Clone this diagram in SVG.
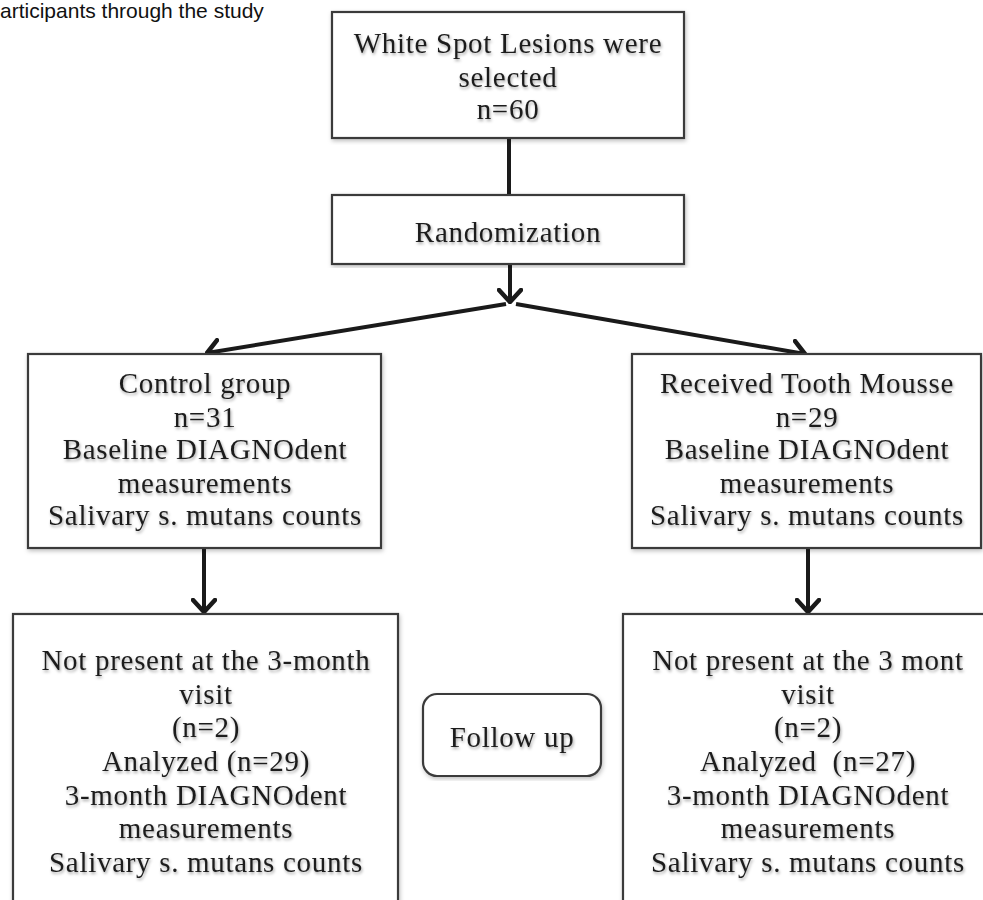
<svg xmlns="http://www.w3.org/2000/svg" width="983" height="900" viewBox="0 0 983 900">
  <defs>
    <filter id="tsh" x="-10%" y="-30%" width="120%" height="180%">
      <feDropShadow dx="1" dy="2" stdDeviation="1.5" flood-color="#000" flood-opacity="0.35"/>
    </filter>
    <filter id="bsh" x="-5%" y="-5%" width="110%" height="110%">
      <feDropShadow dx="1" dy="2" stdDeviation="2" flood-color="#000" flood-opacity="0.25"/>
    </filter>
    <marker id="arr" viewBox="0 0 16 26" refX="14" refY="13" markerWidth="16" markerHeight="26" markerUnits="userSpaceOnUse" orient="auto">
      <path d="M2,2 L14,13 L2,24" fill="none" stroke="#1a1a1a" stroke-width="4.5" stroke-linecap="round" stroke-linejoin="round"/>
    </marker>
  </defs>
  <style>
    .box { fill: #fff; stroke: #3a3a3a; stroke-width: 2.2; filter: url(#bsh); }
    .t { font-family: "Liberation Serif", "DejaVu Serif", serif; font-size: 29px; letter-spacing: 0.7px; fill: #1e1e1e; text-anchor: middle; filter: url(#tsh); }
    .line { stroke: #1a1a1a; stroke-width: 4; fill: none; }
    .cap { font-family: "Liberation Sans", Arial, sans-serif; font-size: 21px; fill: #111; }
  </style>

  <text class="cap" x="0" y="18">articipants through the study</text>

  <g id="connectors">
    <line class="line" x1="509" y1="138" x2="509" y2="195"/>
    <line class="line" x1="510" y1="264" x2="510" y2="302" marker-end="url(#arr)"/>
    <line class="line" x1="506" y1="304" x2="207" y2="353" marker-end="url(#arr)"/>
    <line class="line" x1="516" y1="304" x2="805" y2="354" marker-end="url(#arr)"/>
    <line class="line" x1="204" y1="548" x2="204" y2="612" marker-end="url(#arr)"/>
    <line class="line" x1="808" y1="548" x2="808" y2="612" marker-end="url(#arr)"/>
  </g>

  <g id="selected">
    <rect class="box" x="332" y="12" width="352" height="126"/>
    <text class="t" x="508" y="53">White Spot Lesions were</text>
    <text class="t" x="508" y="87">selected</text>
    <text class="t" x="508" y="119">n=60</text>
  </g>

  <g id="randomization">
    <rect class="box" x="332" y="195" width="352" height="69"/>
    <text class="t" x="508" y="242">Randomization</text>
  </g>

  <g id="control">
    <rect class="box" x="28" y="354" width="353" height="194"/>
    <text class="t" x="205" y="393">Control group</text>
    <text class="t" x="205" y="427">n=31</text>
    <text class="t" x="205" y="459">Baseline DIAGNOdent</text>
    <text class="t" x="205" y="493">measurements</text>
    <text class="t" x="205" y="525">Salivary s. mutans counts</text>
  </g>

  <g id="toothmousse">
    <rect class="box" x="632" y="354" width="349" height="194"/>
    <text class="t" x="807" y="393">Received Tooth Mousse</text>
    <text class="t" x="807" y="427">n=29</text>
    <text class="t" x="807" y="459">Baseline DIAGNOdent</text>
    <text class="t" x="807" y="493">measurements</text>
    <text class="t" x="807" y="525">Salivary s. mutans counts</text>
  </g>

  <g id="followup-control">
    <rect class="box" x="13" y="614" width="385" height="320"/>
    <text class="t" x="206" y="670">Not present at the 3-month</text>
    <text class="t" x="206" y="704">visit</text>
    <text class="t" x="206" y="737">(n=2)</text>
    <text class="t" x="206" y="771">Analyzed (n=29)</text>
    <text class="t" x="206" y="805">3-month DIAGNOdent</text>
    <text class="t" x="206" y="838">measurements</text>
    <text class="t" x="206" y="872">Salivary s. mutans counts</text>
  </g>

  <g id="followup-label">
    <rect class="box" x="423" y="694" width="178" height="82" rx="14" ry="14"/>
    <text class="t" x="512" y="747">Follow up</text>
  </g>

  <g id="followup-mousse">
    <rect class="box" x="623" y="614" width="380" height="320"/>
    <text class="t" x="808" y="670">Not present at the 3 mont</text>
    <text class="t" x="808" y="704">visit</text>
    <text class="t" x="808" y="737">(n=2)</text>
    <text class="t" x="808" y="771">Analyzed&#160; (n=27)</text>
    <text class="t" x="808" y="805">3-month DIAGNOdent</text>
    <text class="t" x="808" y="838">measurements</text>
    <text class="t" x="808" y="872">Salivary s. mutans counts</text>
  </g>
</svg>
